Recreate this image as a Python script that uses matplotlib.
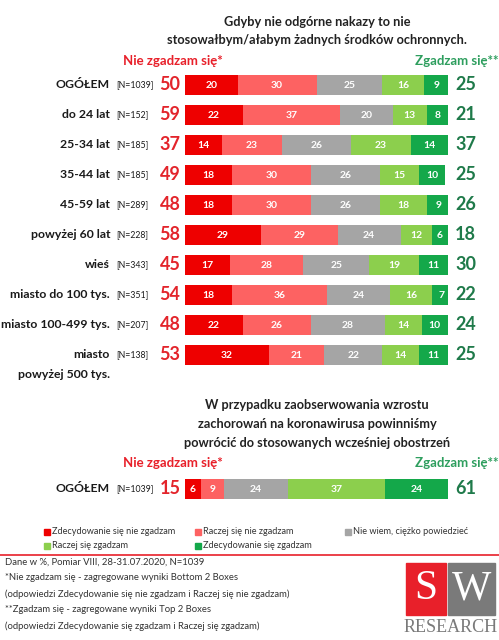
import numpy as np
import matplotlib
matplotlib.use("Agg")
from matplotlib import pyplot as plt
from matplotlib.patches import Rectangle

plt.rcParams['font.family'] = ['Lato', 'DejaVu Sans']

# data
groups = ['OGÓŁEM', 'do 24 lat', '25-34 lat', '35-44 lat', '45-59 lat',
          'powyżej 60 lat', 'wieś', 'miasto do 100 tys.', 'miasto 100-499 tys.',
          'miasto']
sizes = ['[N=1039]', '[N=152]', '[N=185]', '[N=185]', '[N=289]',
         '[N=228]', '[N=343]', '[N=351]', '[N=207]', '[N=138]']
def_no = [20, 22, 14, 18, 18, 29, 17, 18, 22, 32]
rather_no = [30, 37, 23, 30, 30, 29, 28, 36, 26, 21]
dont_know = [25, 20, 26, 26, 26, 24, 25, 24, 28, 22]
rather_yes = [16, 13, 23, 15, 18, 12, 19, 16, 14, 14]
def_yes = [9, 8, 14, 10, 9, 6, 11, 7, 10, 11]
bottom2 = [50, 59, 37, 49, 48, 58, 45, 54, 48, 53]
top2 = [25, 21, 37, 25, 26, 18, 30, 22, 24, 25]

q2_values = [6, 9, 24, 37, 24]
q2_bottom2 = 15
q2_top2 = 61

series_names = ['Zdecydowanie się nie zgadzam', 'Raczej się nie zgadzam',
                'Nie wiem, ciężko powiedzieć', 'Raczej się zgadzam',
                'Zdecydowanie się zgadzam']
colors = ['#ee0000', '#fd6262', '#a5a5a5', '#8ccf4d', '#14a84a']
red_txt = '#e3242b'
green_txt = '#1f7a4a'

W, H = 499, 640
fig = plt.figure(figsize=(W / 100, H / 100), dpi=100)

def fx(x):
    return x / W

def fy(y):
    return 1 - y / H

def ftext(x, y, s, **kw):
    fig.text(fx(x), fy(y), s, **kw)

CAT_FS = 8.8

# ---- chart 1 ----
x0, x1 = 185, 448
ax1 = fig.add_axes([fx(x0), fy(370), (x1 - x0) / W, 300 / H])
rows = np.arange(len(groups))
data = [def_no, rather_no, dont_know, rather_yes, def_yes]
left = np.zeros(len(groups))
for vals, c in zip(data, colors):
    vals = np.array(vals)
    ax1.barh(rows, vals, left=left, height=0.65, color=c, edgecolor='none')
    for r, (v, l) in enumerate(zip(vals, left)):
        ax1.text(l + v / 2, r, str(v), ha='center', va='center', color='white',
                 fontsize=7.5, fontweight='bold')
    left += vals
ax1.set_xlim(0, 100)
ax1.set_ylim(len(groups) - 0.5, -0.5)
ax1.axis('off')

for r in rows:
    ax1.text(-28.5, r, groups[r], ha='right', va='center', fontsize=CAT_FS,
             fontweight='bold', color='#1a1a1a')
    ax1.text(-26, r, sizes[r], ha='left', va='center', fontsize=6.3,
             color='#1a1a1a')
    ax1.text(-5.7, r, str(bottom2[r]), ha='center', va='center', fontsize=13,
             fontweight='bold', color=red_txt)
    ax1.text(102.7, r, str(top2[r]), ha='left', va='center', fontsize=13,
             fontweight='bold', color=green_txt)
ftext(110, 374, 'powyżej 500 tys.', ha='right', va='center', fontsize=CAT_FS,
      fontweight='bold', color='#1a1a1a')

ftext(317, 22, 'Gdyby nie odgórne nakazy to nie', ha='center', va='center',
      fontsize=9.2, fontweight='bold', color='#222222')
ftext(317, 40, 'stosowałbym/ałabym żadnych środków ochronnych.', ha='center',
      va='center', fontsize=9.2, fontweight='bold', color='#222222')
ftext(173, 61, 'Nie zgadzam się*', ha='center', va='center', fontsize=9.5,
      fontweight='bold', color='#e8202a')
ftext(415, 61, 'Zgadzam się**', ha='left', va='center', fontsize=9.5,
      fontweight='bold', color='#2e9e5e')

# ---- chart 2 ----
ax2 = fig.add_axes([fx(x0), fy(504), (x1 - x0) / W, 30 / H])
l = 0
for v, c in zip(q2_values, colors):
    ax2.barh([0], [v], left=l, height=0.65, color=c, edgecolor='none')
    ax2.text(l + v / 2, 0, str(v), ha='center', va='center', color='white',
             fontsize=7.5, fontweight='bold')
    l += v
ax2.set_xlim(0, 100)
ax2.set_ylim(0.5, -0.5)
ax2.axis('off')
ax2.text(-28.5, 0, 'OGÓŁEM', ha='right', va='center', fontsize=CAT_FS,
         fontweight='bold', color='#1a1a1a')
ax2.text(-26, 0, '[N=1039]', ha='left', va='center', fontsize=6.3,
         color='#1a1a1a')
ax2.text(-5.7, 0, str(q2_bottom2), ha='center', va='center', fontsize=13,
         fontweight='bold', color=red_txt)
ax2.text(102.7, 0, str(q2_top2), ha='left', va='center', fontsize=13,
         fontweight='bold', color=green_txt)

for y, s in zip([405, 424, 443], ['W przypadku zaobserwowania wzrostu',
                                  'zachorowań na koronawirusa powinniśmy',
                                  'powrócić do stosowanych wcześniej obostrzeń']):
    ftext(317, y, s, ha='center', va='center', fontsize=9.2, fontweight='bold',
          color='#222222')
ftext(173, 463, 'Nie zgadzam się*', ha='center', va='center', fontsize=9.5,
      fontweight='bold', color='#e8202a')
ftext(415, 463, 'Zgadzam się**', ha='left', va='center', fontsize=9.5,
      fontweight='bold', color='#2e9e5e')

# ---- legend ----
leg_pos = [(47, 532), (198, 532), (348, 532), (47, 546), (198, 546)]
for (x, y), name, c in zip(leg_pos, series_names, colors):
    fig.patches.append(Rectangle((fx(x - 3), fy(y + 3)), 6 / W, 6 / H,
                                 transform=fig.transFigure, color=c))
    ftext(x + 5, y, name, ha='left', va='center', fontsize=6.6, color='#333333')

# ---- footer ----
fig.add_artist(plt.Line2D([0, 1], [fy(555), fy(555)], color='#e8202a',
                          lw=1.2, transform=fig.transFigure))
notes = ['Dane w %, Pomiar VIII, 28-31.07.2020, N=1039',
         '*Nie zgadzam się - zagregowane wyniki Bottom 2 Boxes',
         '(odpowiedzi Zdecydowanie się nie zgadzam i Raczej się nie zgadzam)',
         '**Zgadzam się - zagregowane wyniki Top 2 Boxes',
         '(odpowiedzi Zdecydowanie się zgadzam i Raczej się zgadzam)']
for i, s in enumerate(notes):
    ftext(5, 562 + 16 * i, s, ha='left', va='center', fontsize=6.8,
          color='#333333')

# logo
fig.patches.append(Rectangle((fx(406), fy(615)), 40 / W, 52 / H,
                             transform=fig.transFigure, color='#e8202a'))
fig.patches.append(Rectangle((fx(448), fy(615)), 47 / W, 52 / H,
                             transform=fig.transFigure, color='#7a7a7a'))
ftext(426, 589, 'S', ha='center', va='center', fontsize=30, color='white',
      family='Liberation Serif')
ftext(471.5, 589, 'W', ha='center', va='center', fontsize=30, color='white',
      family='Liberation Serif')
ftext(450.5, 627, 'RESEARCH', ha='center', va='center', fontsize=13,
      color='#7a7a7a', family='Liberation Serif')

fig.savefig('out.png', dpi=100)
